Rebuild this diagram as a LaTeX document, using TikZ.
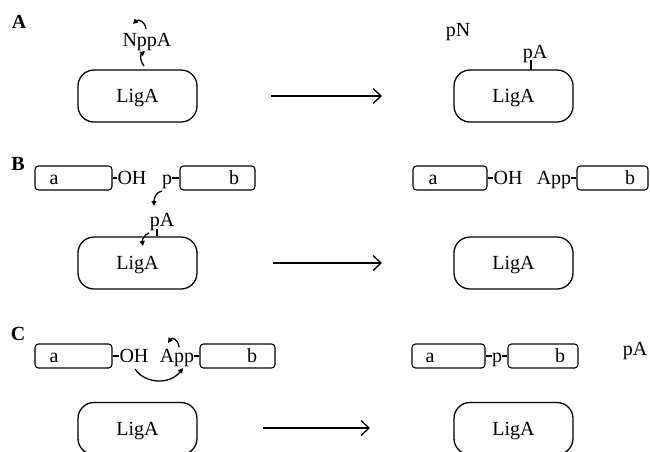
\documentclass[tikz,border=0pt]{standalone}
\usepackage{fontspec}
\setmainfont{Liberation Serif}
\usetikzlibrary{arrows.meta}
\begin{document}
\begin{tikzpicture}[x=1pt,y=-1pt,
 lig/.style={draw,line width=1.3pt,rounded corners=16pt,minimum width=119pt,minimum height=52pt,inner sep=0pt,font=\fontsize{20}{24}\selectfont,text height=13pt,text depth=0pt},
 frag/.style={draw,line width=1.1pt,rounded corners=3.5pt,minimum height=24pt,inner sep=0pt},
 lbl/.style={inner sep=0pt,anchor=base,font=\fontsize{20}{24}\selectfont},
 panel/.style={inner sep=0pt,anchor=base,font=\fontsize{20}{24}\selectfont\bfseries},
 mainarrow/.style={line width=1.6pt,-{Straight Barb[length=8pt,width=15pt,line width=1.3pt]}},
 curv/.style={line width=1.3pt,-{Triangle[length=5pt,width=5pt]}},
 tickline/.style={line width=1.1pt}]
\useasboundingbox (0,0) rectangle (650,451);

% ---------------- Panel A ----------------
\node[panel] (pa) at (19,28) {A};
\node[lig] (ligA1) at (137.5,96) {LigA};
\node[lbl] (nppa) at (147,46) {NppA};
\coordinate (a1s) at (144,66); \coordinate (a1e) at (145,51);
\draw[curv] (a1s) .. controls (140,61) and (140,55) .. (a1e);
\coordinate (a2s) at (146,29); \coordinate (a2e) at (133,24);
\draw[curv] (a2s) .. controls (145,21) and (138,19) .. (a2e);
\coordinate (arA1) at (271,96); \coordinate (arA2) at (382,96);
\draw[mainarrow] (arA1) -- (arA2);
\node[lbl] (pn) at (458,36) {pN};
\node[lbl] (paA) at (535,58) {pA};
\node[lig] (ligA2) at (513.5,96) {LigA};
\coordinate (tA1) at (531,60); \coordinate (tA2) at (531,70);
\draw[tickline] (tA1) -- (tA2);

% ---------------- Panel B ----------------
\node[panel] (pb) at (18,170) {B};
\node[frag,minimum width=77pt] (fbA) at (73.5,178) {};
\node[lbl] (ta1) at (54,184.5) {a};
\node[lbl] (ohB1) at (132,184.5) {OH};
\draw[tickline] (fbA.east) -- (fbA.east -| ohB1.west);
\node[lbl] (pB1) at (167,184.5) {p};
\node[frag,minimum width=75pt] (fbB) at (217.5,178) {};
\node[lbl] (tb1) at (234,184.5) {b};
\draw[tickline] (pB1.east |- fbB.west) -- (fbB.west);
\coordinate (b1s) at (162,191); \coordinate (b1e) at (154,206);
\draw[curv] (b1s) .. controls (156,192) and (154,198) .. (b1e);
\node[lbl] (paB) at (162,226) {pA};
\node[lig] (ligB1) at (137.5,263) {LigA};
\coordinate (tB1) at (157,229);
\draw[tickline] (tB1) -- (tB1 |- ligB1.north);
\coordinate (b2s) at (149,233); \coordinate (b2e) at (143,246);
\draw[curv] (b2s) .. controls (144,235) and (142,240) .. (b2e);
\coordinate (arB1) at (273,263); \coordinate (arB2) at (382,263);
\draw[mainarrow] (arB1) -- (arB2);
\node[frag,minimum width=74pt] (fbA2) at (450,178) {};
\node[lbl] (ta2) at (433,184.5) {a};
\node[lbl] (ohB2) at (508,184.5) {OH};
\draw[tickline] (fbA2.east) -- (fbA2.east -| ohB2.west);
\node[lbl] (appB) at (554,184.5) {App};
\node[frag,minimum width=71pt] (fbB2) at (612.5,178) {};
\node[lbl] (tb2) at (630,184.5) {b};
\draw[tickline] (appB.east |- fbB2.west) -- (fbB2.west);
\node[lig] (ligB2) at (513.5,263) {LigA};

% ---------------- Panel C ----------------
\node[panel] (pc) at (18,340) {C};
\node[frag,minimum width=77pt] (fcA) at (73.5,356) {};
\node[lbl] (ta3) at (54,362.5) {a};
\node[lbl] (ohC1) at (134,362.5) {OH};
\draw[tickline] (fcA.east) -- (fcA.east -| ohC1.west);
\node[lbl] (appC) at (177,362.5) {App};
\node[frag,minimum width=75pt] (fcB) at (237.5,356) {};
\node[lbl] (tb3) at (252,362.5) {b};
\draw[tickline] (appC.east |- fcB.west) -- (fcB.west);
\coordinate (c1s) at (179,347); \coordinate (c1e) at (168,343);
\draw[curv] (c1s) .. controls (178,339) and (172,337) .. (c1e);
\coordinate (c2s) at (135,369); \coordinate (c2e) at (183,368);
\draw[curv] (c2s) .. controls (145,384) and (170,385) .. (c2e);
\node[lig] (ligC1) at (137.5,428.5) {LigA};
\coordinate (arC1) at (263,428); \coordinate (arC2) at (370,428);
\draw[mainarrow] (arC1) -- (arC2);
\node[frag,minimum width=73pt] (fcA2) at (448.5,356) {};
\node[lbl] (ta4) at (430,362.5) {a};
\node[lbl] (pC) at (497,362.5) {p};
\draw[tickline] (fcA2.east) -- (fcA2.east -| pC.west);
\node[frag,minimum width=70pt] (fcB2) at (543,356) {};
\node[lbl] (tb4) at (560,362.5) {b};
\draw[tickline] (pC.east |- fcB2.west) -- (fcB2.west);
\node[lbl] (paC) at (635,355) {pA};
\node[lig] (ligC2) at (513.5,428.5) {LigA};
\end{tikzpicture}
\end{document}
